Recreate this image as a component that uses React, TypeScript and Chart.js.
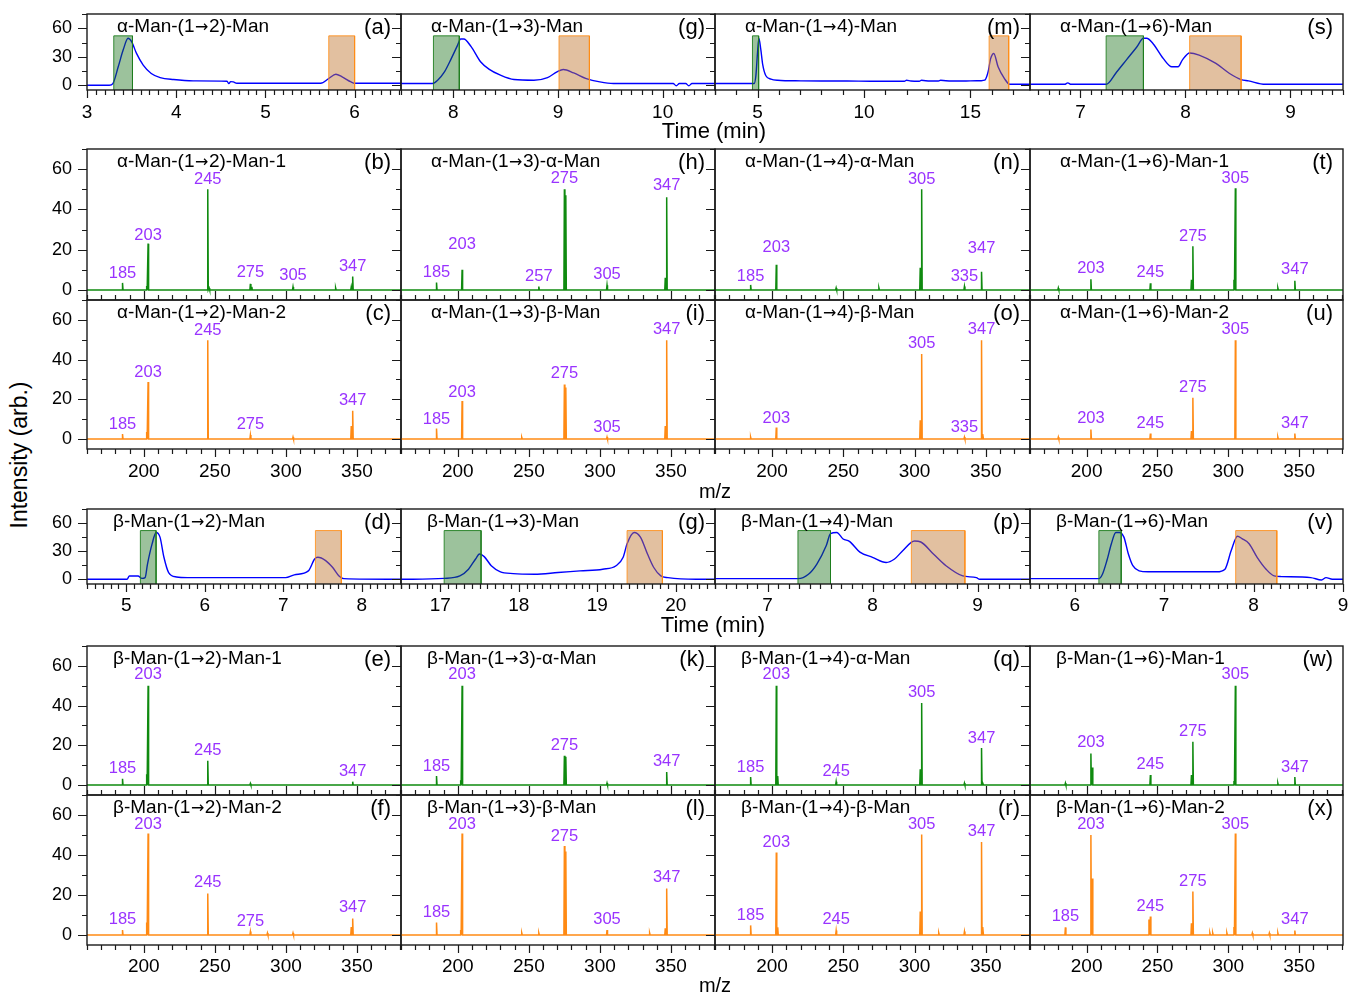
import React, { useEffect, useRef } from "react";
import { Chart, registerables } from "chart.js";
Chart.register(...registerables);

const FONT = "'Liberation Sans', Arial, Helvetica, sans-serif";
const ARROW_FONT = "'DejaVu Sans', sans-serif";
Chart.defaults.font.family = FONT;

// ---------------- chromatograms: time (min) / intensity ----------------
const aTime = [3.0, 3.25, 3.29, 3.35, 3.405, 3.46, 3.5, 3.555, 3.63, 3.72, 3.82, 3.97, 4.19, 4.57, 4.59, 4.61, 4.64, 4.68, 5.62, 5.71, 5.79, 5.86, 5.96, 6.0, 6.52];
const aInt = [0, 0, 1.8, 19.4, 37, 49.4, 45.9, 33.5, 21.2, 12.4, 8.1, 6, 4.6, 4.2, 1.7, 3.8, 3.5, 2.1, 2.1, 7.1, 11.6, 8.8, 3.5, 2.1, 2.1];
const aGreen = [3.3, 3.51];
const aOrange = [5.71, 6.0];

const gTime = [7.5, 7.8, 7.85, 7.915, 7.98, 8.04, 8.07, 8.1, 8.17, 8.26, 8.34, 8.45, 8.58, 8.77, 8.9, 8.99, 9.05, 9.15, 9.27, 9.4, 9.53, 10.03, 10.1, 10.13, 10.16, 10.22, 10.25, 10.28, 10.5];
const gInt = [1.8, 1.8, 5.3, 14, 28, 42, 48.7, 48.7, 40.6, 24.7, 17, 10.6, 6, 5.3, 8.1, 14, 16.6, 13, 7, 3.5, 1.8, 1.8, 1.8, -0.5, 1.8, 1.8, -0.5, 1.8, 1.8];
const gGreen = [7.81, 8.057];
const gOrange = [9.01, 9.3];

const mTime = [3, 4.84, 4.92, 5.0, 5.06, 5.15, 5.24, 5.39, 5.63, 5.94, 7.04, 8.0, 9.2, 10.3, 11.9, 12.0, 12.2, 12.6, 12.7, 13.1, 13.5, 13.6, 14.1, 14.5, 15.0, 15.5, 15.67, 15.83, 15.95, 16.1, 16.3, 16.6, 16.85, 17.8];
const mInt = [1.8, 1.8, 10, 35, 49.4, 38, 22, 10, 6.5, 5.3, 4.6, 4.4, 4.4, 4.2, 4.2, 5.2, 4.4, 4.2, 5.2, 4.4, 4.4, 5.2, 4.4, 4.4, 4.6, 4.8, 5.3, 14, 28, 33.5, 19.4, 7, 1, 1];
const mGreen = [4.76, 5.05];
const mOrange = [15.88, 16.8];

const sTime = [6.52, 6.85, 6.88, 6.91, 7.245, 7.345, 7.44, 7.535, 7.6, 7.63, 7.69, 7.79, 7.87, 7.93, 7.97, 8.04, 8.13, 8.29, 8.42, 8.53, 8.6, 8.76, 9.5];
const sInt = [1, 1, 2.5, 1, 1, 14, 27, 40, 49.4, 49.4, 44, 28, 19.4, 19.4, 26.5, 34, 31.8, 23, 12.4, 6, 4.6, 1, 1];
const sGreen = [7.245, 7.6];
const sOrange = [8.04, 8.53];

const dTime = [4.5, 5.01, 5.04, 5.15, 5.2, 5.24, 5.27, 5.33, 5.38, 5.43, 5.48, 5.54, 5.64, 5.78, 7.03, 7.14, 7.32, 7.4, 7.44, 7.54, 7.63, 7.71, 7.77, 8.5];
const dInt = [0, 0, 3.6, 3.6, 1, 1.8, 16, 38, 50, 45, 23.5, 7.2, 2.5, 1.8, 1.8, 4.7, 9, 21.7, 23.5, 20, 12.6, 3.6, 0.7, 0];
const dGreen = [5.18, 5.38];
const dOrange = [7.41, 7.74];

const g2Time = [16.5, 17.05, 17.25, 17.36, 17.45, 17.5, 17.56, 17.65, 17.76, 17.93, 18.2, 18.5, 18.78, 19.07, 19.24, 19.33, 19.38, 19.47, 19.55, 19.64, 19.72, 19.81, 19.9, 20.26, 20.5];
const g2Int = [0, 1, 3.6, 10.8, 21.7, 27, 24.2, 14.5, 8.3, 6.1, 5.4, 7.2, 9, 10.8, 14.5, 23.5, 38, 50, 45, 27, 12.6, 3.6, 1.8, 0, 0];
const g2Green = [17.05, 17.52];
const g2Orange = [19.38, 19.83];

const pTime = [6.5, 7.29, 7.39, 7.47, 7.56, 7.6, 7.66, 7.72, 7.78, 7.88, 8.0, 8.13, 8.21, 8.29, 8.4, 8.46, 8.58, 8.7, 8.86, 8.99, 9.02, 9.5];
const pInt = [0.7, 0.7, 5.4, 16.3, 36, 48.8, 50, 43, 40.5, 29, 23.5, 18, 21.7, 30.7, 40.8, 39.8, 27, 14.5, 3.6, 1.8, 0, 0];
const pGreen = [7.29, 7.6];
const pOrange = [8.37, 8.88];

const vTime = [5.5, 6.27, 6.31, 6.36, 6.41, 6.46, 6.5, 6.55, 6.6, 6.65, 6.72, 6.82, 7.59, 7.68, 7.75, 7.82, 7.87, 7.95, 8.04, 8.14, 8.23, 8.31, 8.64, 8.76, 8.81, 8.88, 9.0];
const vInt = [0.7, 0.7, 5.4, 20, 38, 50, 50, 45, 27, 14.5, 9, 8, 8, 10.8, 30.7, 46, 43.4, 38, 23.5, 10.8, 3.6, 2.9, 1.8, -0.7, 1.8, 0, 0];
const vGreen = [6.27, 6.52];
const vOrange = [7.8, 8.26];

const BAND_TOP = 52;

// ---------------- tick labels ----------------
const aTicks = [3, 4, 5, 6];
const gTicks = [8, 9, 10];
const mTicks = [5, 10, 15];
const sTicks = [7, 8, 9];
const dTicks = [5, 6, 7, 8];
const g2Ticks = [17, 18, 19, 20];
const pTicks = [7, 8, 9];
const vTicks = [6, 7, 8, 9];
const mzTicks = [200, 250, 300, 350];
const chromYTicks = [0, 30, 60];
const specYTicks = [0, 20, 40, 60];
const MZ_RANGE = [160, 381];

// ---------------- spectra: m/z / intensity, labels ----------------
const bMz = [185, 202, 203, 245, 246, 275, 276, 305, 335, 346, 347];
const bInt = [3.5, 2, 23, 50, 1, 3, 1.5, 1.5, 1, 1.5, 6.7];
const bLab = [185, 203, 245, 275, 305, 347];
const bLabY = [8, 27, 55, 8.5, 7, 11.7];

const hMz = [185, 203, 257, 275, 276, 305, 346, 347];
const hInt = [3.7, 10, 1.7, 50, 47, 2.3, 6, 46];
const hLab = [185, 203, 257, 275, 305, 347];
const hLabY = [8.7, 22.5, 6.7, 55.5, 7.5, 51.7];

const nMz = [185, 203, 245, 275, 304, 305, 335, 347];
const nInt = [2.5, 12.5, 1, 1, 11, 50, 1.7, 9];
const nLab = [185, 203, 305, 335, 347];
const nLabY = [6.7, 21, 55, 6.7, 20.5];

const tMz = [180, 203, 245, 274, 275, 304, 305, 335, 347];
const tInt = [1, 5.3, 3.3, 5, 21.7, 5, 50.5, 1, 4.5];
const tLab = [203, 245, 275, 305, 347];
const tLabY = [10.5, 8.5, 26.7, 55.5, 10];

const cMz = [185, 202, 203, 245, 275, 305, 346, 347];
const cInt = [2.5, 3.5, 28.7, 49.8, 2, 1, 6.5, 14.2];
const cLab = [185, 203, 245, 275, 347];
const cLabY = [7.5, 33.7, 54.8, 7.5, 19.2];

const iMz = [185, 203, 245, 275, 276, 305, 346, 347];
const iInt = [5.3, 19.2, 0.8, 27.5, 26, 1, 6.5, 49.8];
const iLab = [185, 203, 275, 305, 347];
const iLabY = [9.8, 23.7, 32.8, 5.8, 55.3];

const oMz = [185, 203, 304, 305, 335, 347, 348];
const oInt = [1, 5.8, 9.5, 42.8, 1, 49.8, 2.5];
const oLab = [203, 305, 335, 347];
const oLabY = [10.3, 48, 6, 55.3];

const uMz = [180, 203, 245, 274, 275, 305, 335, 347];
const uInt = [1, 4.8, 2.8, 4, 20.8, 49.8, 1, 2.8];
const uLab = [203, 245, 275, 305, 347];
const uLabY = [10.3, 8, 26, 55.3, 7.8];

const eMz = [185, 202, 203, 245, 275, 347];
const eInt = [3.2, 5.4, 50, 12.2, 0.8, 1.7];
const eLab = [185, 203, 245, 347];
const eLabY = [8.3, 55.7, 17.6, 7.1];

const kMz = [185, 202, 203, 275, 276, 305, 347];
const kInt = [4.6, 2.4, 50, 14.7, 14.2, 1, 6.6];
const kLab = [185, 203, 275, 347];
const kLabY = [9.6, 55.7, 19.8, 11.8];

const qMz = [185, 203, 204, 245, 304, 305, 335, 347, 348];
const qInt = [4, 50, 4.5, 1.7, 8, 41.3, 1, 18.6, 1];
const qLab = [185, 203, 245, 305, 347];
const qLabY = [9.1, 55.7, 7.1, 46.4, 23.7];

const wMz = [185, 203, 204, 245, 274, 275, 304, 305, 335, 347];
const wInt = [1, 15.9, 8.8, 5.1, 5, 21.8, 2, 50, 1, 4];
const wLab = [203, 245, 275, 305, 347];
const wLabY = [21.5, 10.5, 27.1, 55.7, 9.1];

const fMz = [185, 202, 203, 245, 275, 287, 305, 346, 347];
const fInt = [2.5, 6.2, 50.8, 20.8, 1.7, 1, 1, 4, 8.3];
const fLab = [185, 203, 245, 275, 347];
const fLabY = [7.8, 55.3, 26.2, 6.7, 13.7];

const lMz = [185, 202, 203, 245, 257, 275, 276, 305, 335, 346, 347];
const lInt = [6.2, 2.5, 50.8, 1, 1, 44.5, 41.7, 2.5, 1, 3.3, 23.3];
const lLab = [185, 203, 275, 305, 347];
const lLabY = [11.2, 55.3, 49.5, 7.8, 28.7];

const rMz = [185, 203, 204, 245, 304, 305, 317, 335, 347, 348];
const rInt = [4.8, 41.2, 3.8, 2.2, 11.7, 50.2, 1, 1.7, 46.5, 4];
const rLab = [185, 203, 245, 305, 347];
const rLabY = [9.8, 46.2, 7.8, 55.3, 51.7];

const xMz = [185, 203, 204, 244, 245, 274, 275, 287, 289, 299, 304, 305, 317, 329, 335, 347];
const xInt = [3.8, 50, 28.2, 7.8, 9.2, 5.8, 21.7, 1, 1, 1, 4, 50.8, 1, 1, 1, 2.2];
const xLab = [185, 203, 245, 275, 305, 347];
const xLabY = [9.2, 55.3, 14.2, 26.7, 55.3, 7.8];

// ---------------- layout ----------------
const COLX = [87, 401, 715, 1030, 1343];
const ROWY = [[14, 90], [149, 300], [300, 449], [509, 584], [646, 795], [795, 945]];
const ML = 55, MR = 8, MT = 4, MB = 40;
const GREEN = "#0f8a0f";
const ORANGE = "#ff8a14";
const PURPLE = "#9933ff";

type Panel = {
  kind: "chrom" | "spec";
  row: number; col: number; title: string; letter: string;
  x?: number[]; v?: number[]; green?: number[]; orange?: number[];
  range?: number[]; ticks?: number[]; minor?: number;
  mz?: number[]; lab?: number[]; labY?: number[]; color?: string;
};

const chrom = (row: number, col: number, title: string, letter: string, x: number[], v: number[], green: number[], orange: number[], range: number[], ticks: number[], minor: number): Panel =>
  ({ kind: "chrom", row, col, title, letter, x, v, green, orange, range, ticks, minor });
const spec = (row: number, col: number, title: string, letter: string, mz: number[], v: number[], lab: number[], labY: number[]): Panel =>
  ({ kind: "spec", row, col, title, letter, mz, v, lab, labY, color: row === 1 || row === 4 ? GREEN : ORANGE });

const PANELS: Panel[] = [
  chrom(0, 0, "α-Man-(1→2)-Man", "(a)", aTime, aInt, aGreen, aOrange, [3, 6.52], aTicks, 0.1),
  chrom(0, 1, "α-Man-(1→3)-Man", "(g)", gTime, gInt, gGreen, gOrange, [7.5, 10.5], gTicks, 0.1),
  chrom(0, 2, "α-Man-(1→4)-Man", "(m)", mTime, mInt, mGreen, mOrange, [3, 17.8], mTicks, 1),
  chrom(0, 3, "α-Man-(1→6)-Man", "(s)", sTime, sInt, sGreen, sOrange, [6.52, 9.5], sTicks, 0.1),
  spec(1, 0, "α-Man-(1→2)-Man-1", "(b)", bMz, bInt, bLab, bLabY),
  spec(1, 1, "α-Man-(1→3)-α-Man", "(h)", hMz, hInt, hLab, hLabY),
  spec(1, 2, "α-Man-(1→4)-α-Man", "(n)", nMz, nInt, nLab, nLabY),
  spec(1, 3, "α-Man-(1→6)-Man-1", "(t)", tMz, tInt, tLab, tLabY),
  spec(2, 0, "α-Man-(1→2)-Man-2", "(c)", cMz, cInt, cLab, cLabY),
  spec(2, 1, "α-Man-(1→3)-β-Man", "(i)", iMz, iInt, iLab, iLabY),
  spec(2, 2, "α-Man-(1→4)-β-Man", "(o)", oMz, oInt, oLab, oLabY),
  spec(2, 3, "α-Man-(1→6)-Man-2", "(u)", uMz, uInt, uLab, uLabY),
  chrom(3, 0, "β-Man-(1→2)-Man", "(d)", dTime, dInt, dGreen, dOrange, [4.5, 8.5], dTicks, 0.1),
  chrom(3, 1, "β-Man-(1→3)-Man", "(g)", g2Time, g2Int, g2Green, g2Orange, [16.5, 20.5], g2Ticks, 0.1),
  chrom(3, 2, "β-Man-(1→4)-Man", "(p)", pTime, pInt, pGreen, pOrange, [6.5, 9.5], pTicks, 0.1),
  chrom(3, 3, "β-Man-(1→6)-Man", "(v)", vTime, vInt, vGreen, vOrange, [5.5, 9], vTicks, 0.1),
  spec(4, 0, "β-Man-(1→2)-Man-1", "(e)", eMz, eInt, eLab, eLabY),
  spec(4, 1, "β-Man-(1→3)-α-Man", "(k)", kMz, kInt, kLab, kLabY),
  spec(4, 2, "β-Man-(1→4)-α-Man", "(q)", qMz, qInt, qLab, qLabY),
  spec(4, 3, "β-Man-(1→6)-Man-1", "(w)", wMz, wInt, wLab, wLabY),
  spec(5, 0, "β-Man-(1→2)-Man-2", "(f)", fMz, fInt, fLab, fLabY),
  spec(5, 1, "β-Man-(1→3)-β-Man", "(l)", lMz, lInt, lLab, lLabY),
  spec(5, 2, "β-Man-(1→4)-β-Man", "(r)", rMz, rInt, rLab, rLabY),
  spec(5, 3, "β-Man-(1→6)-Man-2", "(x)", xMz, xInt, xLab, xLabY),
];

function stickPoints(mz: number[], v: number[]) {
  const idx = mz.map((_, i) => i).sort((i, j) => mz[i] - mz[j]);
  const pts: { x: number; y: number }[] = [{ x: MZ_RANGE[0], y: 0 }];
  for (const i of idx) {
    pts.push({ x: mz[i] - 0.35, y: 0 }, { x: mz[i], y: v[i] }, { x: mz[i] + 0.35, y: 0 });
  }
  pts.push({ x: MZ_RANGE[1], y: 0 });
  return pts;
}

function band(r: number[], fill: string, border: string) {
  return {
    data: [{ x: r[0], y: -5 }, { x: r[0], y: BAND_TOP }, { x: r[1], y: BAND_TOP }, { x: r[1], y: -5 }],
    backgroundColor: fill, borderColor: border, borderWidth: 1, pointRadius: 0, tension: 0, fill: "start",
  };
}

// draws a title, rendering the arrow glyph with a font whose arrow is full-size
function drawTitle(ctx: CanvasRenderingContext2D, text: string, x: number, y: number, size: number) {
  const parts = text.split("→");
  let cx = x;
  parts.forEach((part, i) => {
    ctx.font = `${size}px ${FONT}`;
    ctx.fillText(part, cx, y);
    cx += ctx.measureText(part).width;
    if (i < parts.length - 1) {
      ctx.font = `${size - 3}px ${ARROW_FONT}`;
      ctx.fillText("→", cx + 0.5, y + 0.5);
      cx += ctx.measureText("→").width + 1;
    }
  });
}

function decor(p: Panel) {
  const isChrom = p.kind === "chrom";
  const majors = isChrom ? (p.ticks as number[]) : mzTicks;
  const minorStep = isChrom ? (p.minor as number) : 10;
  const inward = p.row === 1 || p.row === 4;
  return {
    id: "decor",
    afterDraw(chart: any) {
      const { ctx, chartArea: a, scales } = chart;
      const x = scales.x, y = scales.y;
      ctx.save();
      ctx.strokeStyle = "#1a1a1a";
      ctx.lineWidth = 1.4;
      ctx.strokeRect(a.left, a.top, a.right - a.left, a.bottom - a.top);
      ctx.lineWidth = 1.2;
      ctx.beginPath();
      const yMinor = isChrom ? 15 : 10, yMajor = isChrom ? 30 : 20;
      for (let k = 0; k * yMinor <= y.max; k++) {
        const val = k * yMinor;
        const py = Math.round(y.getPixelForValue(val)) + 0.5;
        const len = val % yMajor === 0 ? 9 : 5;
        ctx.moveTo(a.left - len, py);
        ctx.lineTo(a.left, py);
      }
      const k0 = Math.ceil(x.min / minorStep - 1e-6), k1 = Math.floor(x.max / minorStep + 1e-6);
      for (let k = k0; k <= k1; k++) {
        const val = k * minorStep;
        const isMajor = majors.some((m) => Math.abs(m - val) < minorStep * 0.01);
        const len = isMajor ? (inward ? 9 : 8) : 5;
        const px = Math.round(x.getPixelForValue(val)) + 0.5;
        ctx.moveTo(px, a.bottom);
        ctx.lineTo(px, inward ? a.bottom - len : a.bottom + len);
      }
      ctx.stroke();
      // titles
      ctx.fillStyle = "#000";
      ctx.textBaseline = "middle";
      ctx.textAlign = "left";
      drawTitle(ctx, p.title, a.left + (p.row < 3 ? 30 : 26), a.top + 13, 19);
      ctx.font = `22px ${FONT}`;
      ctx.textAlign = "right";
      ctx.fillText(p.letter, a.right - 10, a.top + 14);
      if (!isChrom) {
        ctx.fillStyle = PURPLE;
        ctx.font = `16.5px ${FONT}`;
        ctx.textAlign = "center";
        (p.lab as number[]).forEach((m, i) => {
          ctx.fillText(String(m), x.getPixelForValue(m), y.getPixelForValue((p.labY as number[])[i]));
        });
      }
      ctx.restore();
    },
  };
}

const zeroPad = (s: any) => { s.paddingTop = 0; s.paddingBottom = 0; s.paddingLeft = 0; s.paddingRight = 0; };

function PanelChart({ p }: { p: Panel }) {
  const ref = useRef<HTMLCanvasElement>(null);
  const [rt, rb] = ROWY[p.row];
  const w = COLX[p.col + 1] - COLX[p.col] + ML + MR;
  const h = rb - rt + MT + MB;
  useEffect(() => {
    const isChrom = p.kind === "chrom";
    const showX = p.row === 0 || p.row === 2 || p.row === 3 || p.row === 5;
    const showY = p.col === 0;
    const datasets: any[] = isChrom
      ? [
          band(p.green as number[], "rgba(20,110,20,0.42)", "rgba(30,125,30,0.9)"),
          band(p.orange as number[], "rgba(190,115,45,0.45)", "rgba(255,140,20,0.85)"),
          {
            data: (p.x as number[]).map((t, i) => ({ x: t, y: (p.v as number[])[i] })),
            borderColor: "#0000ff", borderWidth: 1.4, pointRadius: 0, cubicInterpolationMode: "monotone", fill: false,
          },
        ]
      : [{ data: stickPoints(p.mz as number[], p.v as number[]), borderColor: p.color, borderWidth: 1.5, pointRadius: 0, tension: 0, fill: false }];
    const xr = isChrom ? (p.range as number[]) : MZ_RANGE;
    const xt = isChrom ? (p.ticks as number[]) : mzTicks;
    const yt = isChrom ? chromYTicks : specYTicks;
    const yr = isChrom ? [-5, 75] : [-5, 70];
    const chart = new Chart(ref.current as HTMLCanvasElement, {
      type: "line",
      data: { datasets },
      options: {
        animation: false,
        responsive: false,
        maintainAspectRatio: false,
        devicePixelRatio: 1,
        events: [],
        layout: { autoPadding: false, padding: { top: MT, right: MR, left: 0, bottom: 0 } },
        plugins: { legend: { display: false }, tooltip: { enabled: false } },
        scales: {
          x: {
            type: "linear", min: xr[0], max: xr[1], position: "bottom",
            grid: { display: false, drawTicks: false }, border: { display: false },
            afterFit: (s: any) => { s.height = MB; zeroPad(s); },
            afterBuildTicks: (s: any) => { s.ticks = xt.map((v) => ({ value: v })); },
            ticks: { display: showX, autoSkip: false, maxRotation: 0, padding: p.row < 3 ? 11 : 10, color: "#000", font: { size: 19, family: FONT }, callback: (v: any) => String(v) },
          },
          y: {
            type: "linear", min: yr[0], max: yr[1],
            grid: { display: false, drawTicks: false }, border: { display: false },
            afterFit: (s: any) => { s.width = ML; zeroPad(s); },
            afterBuildTicks: (s: any) => { s.ticks = yt.map((v) => ({ value: v })); },
            ticks: { display: showY, autoSkip: false, padding: 15, color: "#000", font: { size: 18, family: FONT }, callback: (v: any) => String(v) },
          },
        },
      } as any,
      plugins: [decor(p)],
    });
    return () => chart.destroy();
  }, []);
  return (
    <canvas
      ref={ref}
      width={w}
      height={h}
      style={{ position: "absolute", left: COLX[p.col] - ML, top: rt - MT, width: w, height: h }}
    />
  );
}

const label = (text: string, x: number, y: number, size: number, rotate = false) => (
  <div
    key={text + y}
    style={{
      position: "absolute", left: x, top: y, fontFamily: FONT, fontSize: size, color: "#000", whiteSpace: "nowrap",
      transform: `translate(-50%, -50%)${rotate ? " rotate(-90deg)" : ""}`, lineHeight: 1,
    }}
  >
    {text}
  </div>
);

export default function App() {
  return (
    <div style={{ position: "absolute", left: 0, top: 0, width: 1349, height: 993, overflow: "hidden", background: "#fff" }}>
      {PANELS.map((p, i) => (
        <PanelChart key={i} p={p} />
      ))}
      {label("Time (min)", 714, 131, 22)}
      {label("m/z", 715, 491, 20)}
      {label("Time (min)", 713, 625, 22)}
      {label("m/z", 715, 985, 20)}
      {label("Intensity (arb.)", 19, 455, 23, true)}
    </div>
  );
}
